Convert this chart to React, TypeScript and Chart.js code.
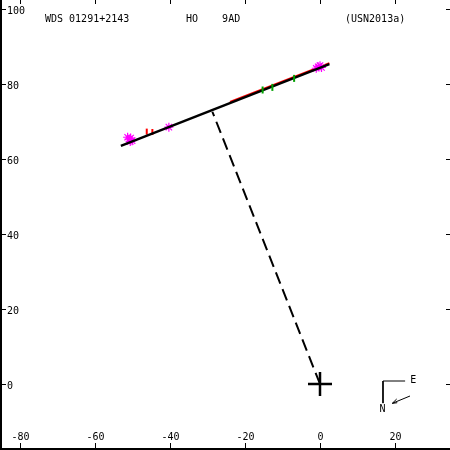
import React, { useEffect, useRef } from "react";
import { Chart, registerables } from "chart.js";

Chart.register(...registerables);

// ---- axis ticks ----
const xTicks = [-80, -60, -40, -20, 0, 20];
const yTicks = [0, 20, 40, 60, 80, 100];
const xMin = -85.333;
const xMax = 34.667;
const yMin = -17.6;
const yMax = 102.4;

// ---- header texts ----
const titleLeft = "WDS 01291+2143";
const titleMid = "HO    9AD";
const titleRight = "(USN2013a)";

// ---- orbit (apparent ellipse, nearly edge-on) ----
const orbitX = [-53.1, 2.5];
const orbitY = [63.5, 85.3];

// ---- red residual traces along the orbit ----
const redTraceX = [-24.0, 2.5];
const redTraceY = [75.2, 85.58];

// ---- line of periastron (dashed) ----
const periX = [0, -28.7];
const periY = [0, 72.6];

// ---- observations (magenta) ----
const obsX = [-51.3, -50.9, -50.5, -50.1, -50.6, -40.3, -1.0, -0.5, 0.0, 0.4];
const obsY = [65.8, 65.3, 65.6, 64.9, 64.7, 68.5, 84.2, 84.6, 84.9, 84.4];

// ---- O-C residuals ----
const redOcX = [-46.2, -44.7];
const redOcY = [67.3, 67.2];
const greenOcX = [-15.3, -12.7, -6.9];
const greenOcY = [78.4, 79.1, 81.5];

// ---- primary ----
const primaryX = [0];
const primaryY = [0];

// ---- compass ----
const compassX = [22.7, 16.8, 16.8];
const compassY = [0.8, 0.8, -5.1];
const arrowShaftX = [24.0, 19.28];
const arrowShaftY = [-3.2, -5.15];
const arrowHeadX = [20.45, 19.28, 20.6];
const arrowHeadY = [-4.0, -5.15, -4.99];
const compassLabels = ["E", "N"];
const compassLabelX = [24.9, 16.7];
const compassLabelY = [0.93, -6.9];

const pts = (xs: number[], ys: number[]) => xs.map((x, i) => ({ x, y: ys[i] }));

const FONT = "10px 'DejaVu Sans Mono', monospace";

const framePlugin = {
  id: "frame",
  afterDraw(chart: any) {
    const ctx = chart.ctx as CanvasRenderingContext2D;
    const xs = chart.scales.x;
    const ys = chart.scales.y;
    const W = chart.width;
    const H = chart.height;
    ctx.save();
    ctx.fillStyle = "#000";
    // axis lines (left and bottom)
    ctx.fillRect(0, 0, 2, H);
    ctx.fillRect(0, H - 2, W, 2);
    // x ticks
    ctx.font = FONT;
    ctx.textAlign = "center";
    ctx.textBaseline = "alphabetic";
    xTicks.forEach((v) => {
      const px = Math.round(xs.getPixelForValue(v));
      ctx.fillRect(px, H - 7, 1, 5);
      ctx.fillRect(px, 0, 1, 4);
      ctx.fillText(String(v), px + 0.5, H - 10.5);
    });
    // y ticks
    ctx.textAlign = "left";
    yTicks.forEach((v) => {
      const py = Math.round(ys.getPixelForValue(v));
      ctx.fillRect(2, py, 4, 1);
      ctx.fillRect(W - 4, py, 4, 1);
      ctx.fillText(String(v), 7, py + 4.5);
    });
    // header
    ctx.fillText(titleLeft, 45, 21.5);
    ctx.fillText(titleMid, 186, 21.5);
    ctx.fillText(titleRight, 345, 21.5);
    // compass labels
    ctx.textAlign = "center";
    ctx.textBaseline = "middle";
    compassLabels.forEach((t, i) => {
      ctx.fillText(t, xs.getPixelForValue(compassLabelX[i]), ys.getPixelForValue(compassLabelY[i]));
    });
    ctx.restore();
  },
};

export default function App() {
  const ref = useRef<HTMLCanvasElement>(null);
  useEffect(() => {
    const canvas = ref.current!;
    const lineDs = (label: string, data: any, color: string, width: number, order: number, extra: any = {}) => ({
      label,
      data,
      showLine: true,
      borderColor: color,
      backgroundColor: color,
      borderWidth: width,
      pointRadius: 0,
      tension: 0,
      order,
      ...extra,
    });
    const chart = new Chart(canvas, {
      type: "scatter",
      data: {
        datasets: [
          {
            label: "green O-C",
            data: pts(greenOcX, greenOcY),
            pointStyle: "line",
            pointRotation: 90,
            pointRadius: 3.5,
            pointBorderWidth: 2,
            pointBorderColor: "#00a000",
            pointBackgroundColor: "#00a000",
            showLine: false,
            order: 1,
          } as any,
          lineDs("orbit", pts(orbitX, orbitY), "#000", 2.5, 2),
          {
            label: "observations",
            data: pts(obsX, obsY),
            pointStyle: "star",
            pointRadius: 4.5,
            pointBorderWidth: 1.2,
            pointBorderColor: "#ff00ff",
            pointBackgroundColor: "#ff00ff",
            showLine: false,
            order: 3,
          } as any,
          {
            label: "red O-C",
            data: pts(redOcX, redOcY),
            pointStyle: "line",
            pointRotation: 90,
            pointRadius: 3,
            pointBorderWidth: 2,
            pointBorderColor: "#ff0000",
            pointBackgroundColor: "#ff0000",
            showLine: false,
            order: 4,
          } as any,
          lineDs("red trace", pts(redTraceX, redTraceY), "#ff0000", 2, 5),
          lineDs("periastron", pts(periX, periY), "#000", 2, 6, { borderDash: [12, 6] }),
          {
            label: "primary",
            data: pts(primaryX, primaryY),
            pointStyle: "cross",
            pointRadius: 12,
            pointBorderWidth: 2.5,
            pointBorderColor: "#000",
            showLine: false,
            order: 0,
          } as any,
          lineDs("compass", pts(compassX, compassY), "#000", 1, 7),
          lineDs("arrow shaft", pts(arrowShaftX, arrowShaftY), "#000", 1, 7),
          lineDs("arrow head", pts(arrowHeadX, arrowHeadY), "#000", 1, 7),
        ],
      },
      options: {
        responsive: false,
        animation: false,
        events: [],
        layout: { padding: 0, autoPadding: false },
        scales: {
          x: { type: "linear", display: false, min: xMin, max: xMax },
          y: { type: "linear", display: false, min: yMin, max: yMax },
        },
        plugins: {
          legend: { display: false },
          tooltip: { enabled: false },
        },
      },
      plugins: [framePlugin],
    });
    return () => chart.destroy();
  }, []);
  return (
    <div style={{ position: "absolute", left: 0, top: 0, width: 450, height: 450, background: "#fff" }}>
      <canvas ref={ref} width={450} height={450} style={{ display: "block" }} />
    </div>
  );
}
